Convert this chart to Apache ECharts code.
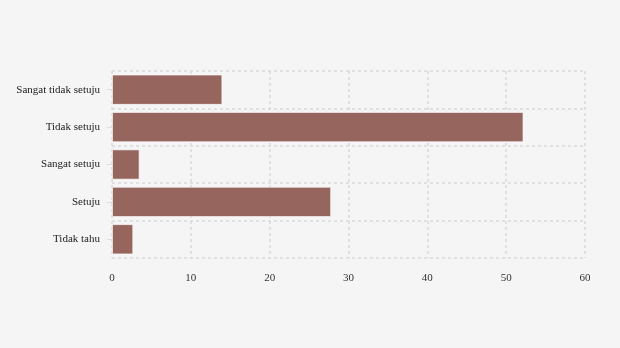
<!DOCTYPE html>
<html><head><meta charset="utf-8">
<script src="https://cdn.jsdelivr.net/npm/echarts@6/dist/echarts.min.js"></script>
<style>html,body{margin:0;padding:0;background:#f5f5f5;}#c{width:620px;height:348px;}</style>
</head><body><div id="c"></div>
<script>
const categories = ["Tidak tahu", "Setuju", "Sangat setuju", "Tidak setuju", "Sangat tidak setuju"];
const values = [2.7, 27.8, 3.5, 52.2, 14.0];
const xTicks = [0, 10, 20, 30, 40, 50, 60];

const chart = echarts.init(document.getElementById('c'));
const font = '"Liberation Serif", "Times New Roman", serif';
chart.setOption({
  backgroundColor: '#f5f5f5',
  animation: false,
  grid: {left: 112, right: 35, top: 71, bottom: 90},
  xAxis: {
    type: 'value', min: xTicks[0], max: xTicks[xTicks.length-1], interval: 10,
    axisLine: {show: false}, axisTick: {show: false},
    axisLabel: {color: '#333', fontFamily: font, fontSize: 11, margin: 15},
    splitLine: {show: true, lineStyle: {color: '#d9d9d9', type: [3, 3], width: 1.5}}
  },
  yAxis: {
    type: 'category', data: categories,
    axisLine: {show: false},
    axisTick: {show: true, alignWithLabel: true, length: 5, lineStyle: {color: '#ddd'}},
    axisLabel: {color: '#222', fontFamily: font, fontSize: 11, margin: 12},
    splitLine: {show: true, lineStyle: {color: '#d9d9d9', type: [3, 3], width: 1.5}}
  },
  series: [{
    type: 'bar', data: values, barCategoryGap: '19%',
    itemStyle: {color: '#96665e', borderColor: 'rgba(255,255,255,0.6)', borderWidth: 1}
  }]
});
</script></body></html>
